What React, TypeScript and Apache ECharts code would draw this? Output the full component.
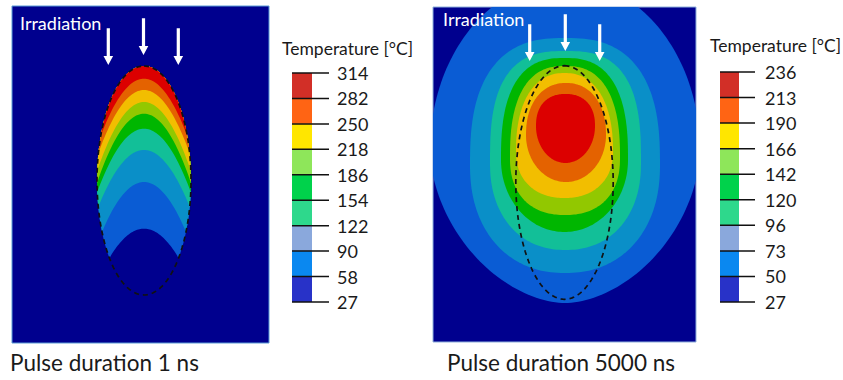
import React, { useEffect, useRef } from "react";
import * as echarts from "echarts";

// Colour-bar tick labels (°C), top to bottom
const ticks1 = [314, 282, 250, 218, 186, 154, 122, 90, 58, 27];
const ticks2 = [236, 213, 190, 166, 142, 120, 96, 73, 50, 27];

// Panel 1 (pulse 1 ns): isotherm lower boundaries, coolest first (panel units, y downwards)
const iso1Level = [58, 90, 122, 154, 186, 218, 250, 282];
const iso1AxisDepth = [222.7, 176, 144, 122.7, 107.7, 96, 84, 72.7];
const iso1EdgeDepth = [252, 226, 201, 186, 177, 165, 147, 130];

// Panel 2 (pulse 5000 ns): isotherm contours, coolest first
const iso2Level = [50, 73, 96, 120, 142, 166, 190, 213];
const iso2Cx = [132, 132, 132.5, 131.5, 132, 131.5, 133, 132.5];
const iso2Cy = [143, 158, 156, 153, 151, 145, 128, 119];
const iso2Rx = [135, 95, 75.5, 63.5, 55, 48.5, 40, 29.5];
const iso2RyTop = [170, 127, 112, 102, 92, 79, 52, 32];
const iso2RyBottom = [153, 108, 87, 72, 57, 46, 47, 37];
const iso2ExpTop = [2, 2.6, 2.8, 2.6, 2.5, 2.3, 2.2, 2.3];
const iso2ExpBottom = [1.8, 2.2, 2.2, 2, 2.3, 2.2, 2, 2];

// Irradiated spot (dashed ellipse): cx, cy, rx, ry
const spot1 = [132, 174.5, 47, 114.5];
const spot2 = [131.5, 175.5, 48.7, 116.8];

// styles
const NAVY = "#00008e";
const fieldColors = ["#0a5cd4", "#0a8fc8", "#12bf98", "#00b600", "#92c800", "#f2be00", "#e46200", "#dc0000"];
const barColors = ["#d22f27", "#ff6414", "#ffe600", "#8ee65a", "#00d24b", "#2ed88c", "#8aa8dc", "#0a88f0", "#2832c8"];
const FONT = "Lato, 'Open Sans', sans-serif";

function arrow(c: number, t: number, b: number) {
  return {
    type: "polygon",
    shape: {
      points: [
        [c - 1.6, t], [c + 1.6, t], [c + 1.6, b - 9], [c + 4.8, b - 9],
        [c, b], [c - 4.8, b - 9], [c - 1.6, b - 9],
      ],
    },
    style: { fill: "#ffffff" },
    z: 20,
  };
}

export default function App() {
  const ref = useRef<HTMLDivElement>(null);
  useEffect(() => {
    if (!ref.current) return;
    const chart = echarts.init(ref.current, undefined, { renderer: "svg" });

    const capBand = (params: any, api: any) => {
      const i = params.dataIndex;
      const b = api.value(0);
      const e = api.value(1);
      const [cx, cy, rx, ry] = spot1;
      const xe = rx * Math.sqrt(Math.max(0.0001, 1 - ((e - cy) / ry) ** 2));
      const k = (e - b) / (xe * xe);
      const f = (x: number) => b + k * (x - cx) ** 2;
      let T = Math.PI;
      for (let s = 1; s <= 800; s++) {
        const t = (Math.PI * s) / 800;
        const x = cx + rx * Math.sin(t);
        const y = cy - ry * Math.cos(t);
        if (y >= f(x)) { T = t; break; }
      }
      const pts: number[][] = [];
      const N = 100;
      for (let s = 0; s <= N; s++) {
        const t = -T + (2 * T * s) / N;
        pts.push(api.coord([cx + rx * Math.sin(t), cy - ry * Math.cos(t)]));
      }
      const xr = cx + rx * Math.sin(T);
      const M = 60;
      for (let s = 1; s < M; s++) {
        const x = xr - (2 * (xr - cx) * s) / M;
        pts.push(api.coord([x, f(x)]));
      }
      return { type: "polygon", shape: { points: pts }, style: { fill: fieldColors[i] } };
    };

    const blob = (params: any, api: any) => {
      const i = params.dataIndex;
      const cx = api.value(0), cy = api.value(1), rx = api.value(2);
      const ryT = api.value(3), ryB = api.value(4), nT = api.value(5), nB = api.value(6);
      const pts: number[][] = [];
      const N = 200;
      for (let s = 0; s < N; s++) {
        const t = (2 * Math.PI * s) / N;
        const c = Math.cos(t), sn = Math.sin(t);
        const up = sn < 0;
        const n = up ? nT : nB;
        const ry = up ? ryT : ryB;
        const x = cx + rx * Math.sign(c) * Math.pow(Math.abs(c), 2 / n);
        const y = cy + ry * Math.sign(sn) * Math.pow(Math.abs(sn), 2 / n);
        pts.push(api.coord([x, y]));
      }
      return { type: "polygon", shape: { points: pts }, style: { fill: fieldColors[i] } };
    };

    const spot = (params: any, api: any) => {
      const cx = api.value(0), cy = api.value(1), rx = api.value(2), ry = api.value(3);
      const pts: number[][] = [];
      const N = 160;
      for (let s = 0; s < N; s++) {
        const t = (2 * Math.PI * s) / N;
        pts.push(api.coord([cx + rx * Math.sin(t), cy - ry * Math.cos(t)]));
      }
      return {
        type: "polygon",
        shape: { points: pts },
        style: { fill: "none", stroke: "#111", lineWidth: 1.7, lineDash: [5, 4] },
      };
    };

    const colorBar = (barW: number, lineW: number) => (params: any, api: any) => {
      const i = params.dataIndex;
      const p0 = api.coord([0, i]);
      const p1 = api.coord([barW, i + 1]);
      const l1 = api.coord([lineW, i]);
      const children: any[] = [
        { type: "rect", shape: { x: p0[0], y: p0[1], width: p1[0] - p0[0], height: p1[1] - p0[1] }, style: { fill: barColors[i] } },
        { type: "line", shape: { x1: p0[0], y1: p0[1], x2: l1[0], y2: p0[1] }, style: { stroke: "#111", lineWidth: 1.5 } },
      ];
      if (i === 8) {
        children.push({ type: "line", shape: { x1: p0[0], y1: p1[1], x2: l1[0], y2: p1[1] }, style: { stroke: "#111", lineWidth: 1.5 } });
      }
      return { type: "group", children };
    };

    const hiddenAxis = (min: number, max: number, gridIndex: number, inverse = false) => ({
      type: "value", min, max, gridIndex, inverse, show: false,
    });

    const legendYAxis = (ticks: number[], gridIndex: number, margin: number) => ({
      type: "category",
      data: ticks.map(String),
      boundaryGap: false,
      inverse: true,
      gridIndex,
      position: "right",
      axisLine: { show: false },
      axisTick: { show: false },
      splitLine: { show: false },
      axisLabel: { interval: 0, margin, fontSize: 18, color: "#1a1a1a", fontFamily: FONT },
    });

    chart.setOption({
      animation: false,
      backgroundColor: "#ffffff",
      grid: [
        { left: 12, top: 6, width: 257, height: 337, show: true, backgroundColor: NAVY, borderColor: "#5b9bd5", borderWidth: 1 },
        { left: 433, top: 7, width: 263, height: 335, show: true, backgroundColor: NAVY, borderColor: "#8fb0dc", borderWidth: 1 },
        { left: 292, top: 73, width: 37, height: 229 },
        { left: 720, top: 72, width: 35, height: 230 },
      ],
      xAxis: [
        hiddenAxis(0, 257, 0),
        hiddenAxis(0, 263, 1),
        hiddenAxis(0, 37, 2),
        hiddenAxis(0, 35, 3),
      ],
      yAxis: [
        hiddenAxis(0, 337, 0, true),
        hiddenAxis(0, 335, 1, true),
        legendYAxis(ticks1, 2, 8),
        legendYAxis(ticks2, 3, 10),
      ],
      series: [
        {
          type: "custom", name: "1 ns", xAxisIndex: 0, yAxisIndex: 0, clip: true,
          data: iso1Level.map((lv, i) => [iso1AxisDepth[i], iso1EdgeDepth[i], lv]),
          renderItem: capBand,
        },
        {
          type: "custom", name: "spot 1", xAxisIndex: 0, yAxisIndex: 0,
          data: [spot1], renderItem: spot, z: 5,
        },
        {
          type: "custom", name: "5000 ns", xAxisIndex: 1, yAxisIndex: 1, clip: true,
          data: iso2Level.map((lv, i) => [iso2Cx[i], iso2Cy[i], iso2Rx[i], iso2RyTop[i], iso2RyBottom[i], iso2ExpTop[i], iso2ExpBottom[i], lv]),
          renderItem: blob,
        },
        {
          type: "custom", name: "spot 2", xAxisIndex: 1, yAxisIndex: 1,
          data: [spot2], renderItem: spot, z: 5,
        },
        {
          type: "custom", name: "bar 1", xAxisIndex: 2, yAxisIndex: 2,
          data: ticks1.slice(0, 9).map((v, i) => [0, i, v]),
          renderItem: colorBar(20, 37),
        },
        {
          type: "custom", name: "bar 2", xAxisIndex: 3, yAxisIndex: 3,
          data: ticks2.slice(0, 9).map((v, i) => [0, i, v]),
          renderItem: colorBar(19, 35),
        },
      ],
      graphic: [
        arrow(108.3, 28.3, 65), arrow(143.5, 18.3, 55), arrow(178.3, 28.3, 65),
        arrow(529.7, 24.3, 61), arrow(565.3, 14.3, 51), arrow(599.7, 24.3, 61),
        { type: "text", x: 20, y: 23, z: 20, style: { text: "Irradiation", fill: "#fff", font: `18px ${FONT}`, verticalAlign: "middle" } },
        { type: "text", x: 443, y: 19, z: 20, style: { text: "Irradiation", fill: "#fff", font: `18px ${FONT}`, verticalAlign: "middle" } },
        { type: "text", x: 282, y: 48.5, style: { text: "Temperature [°C]", fill: "#1a1a1a", font: `17.5px ${FONT}`, verticalAlign: "middle" } },
        { type: "text", x: 710, y: 45.5, style: { text: "Temperature [°C]", fill: "#1a1a1a", font: `17.5px ${FONT}`, verticalAlign: "middle" } },
        { type: "text", x: 10, y: 362, style: { text: "Pulse duration 1 ns", fill: "#1a1a1a", font: `22.5px ${FONT}`, verticalAlign: "middle" } },
        { type: "text", x: 447, y: 362, style: { text: "Pulse duration 5000 ns", fill: "#1a1a1a", font: `22.5px ${FONT}`, verticalAlign: "middle" } },
      ],
    });
    return () => chart.dispose();
  }, []);
  return <div ref={ref} style={{ position: "absolute", left: 0, top: 0, width: 843, height: 380 }} />;
}
